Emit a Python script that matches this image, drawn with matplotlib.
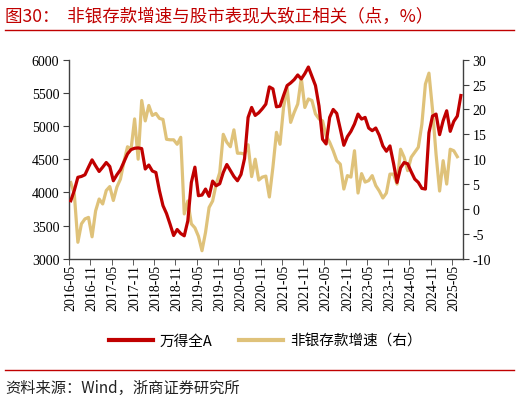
"""Non-bank deposit growth vs. Wind All A index, dual-axis line chart."""
import numpy as np
import matplotlib
matplotlib.use('Agg')
import matplotlib.pyplot as plt
from matplotlib.lines import Line2D

plt.rcParams['font.family'] = ['Noto Sans CJK SC', 'DejaVu Sans']

# monthly data, 2016-05 .. 2025-07
months = [f'{2016 + (4 + k) // 12}-{(4 + k) % 12 + 1:02d}' for k in range(111)]

wind_all_a = [
    3874, 4030, 4227, 4240, 4265, 4380, 4490, 4400, 4315, 4380,
    4450, 4390, 4175, 4265, 4340, 4460, 4580, 4645, 4665, 4670,
    4660, 4352, 4412, 4322, 4300, 4025, 3800, 3680, 3520, 3350,
    3440, 3380, 3345, 3570, 4150, 4380, 3950, 3960, 4050, 3940,
    4170, 4100, 4130, 4300, 4420, 4330, 4240, 4175, 4270, 4510,
    5130, 5280, 5160, 5200, 5260, 5330, 5590, 5560, 5290, 5300,
    5460, 5610, 5650, 5700, 5770, 5710, 5790, 5890, 5750, 5610,
    5300, 4800, 4730, 5130, 5250, 5190, 4955, 4710, 4840, 4920,
    5030, 5180, 5105, 5130, 4970, 4930, 4970, 4860, 4700, 4620,
    4700, 4440, 4150, 4370, 4450, 4430, 4310, 4200, 4150, 4060,
    4050, 4900, 5150, 5180, 4870, 5080, 5230, 4920, 5070, 5150,
    5460,
]

nonbank_dep = [
    5.3, 3.0, -6.7, -3.0, -2.0, -1.7, -5.6, -0.4, 2.0, 1.0,
    3.7, 4.5, 1.7, 4.4, 6.0, 9.5, 12.5, 12.0, 18.1, 10.0,
    21.8, 17.7, 20.8, 18.8, 19.2, 18.2, 18.0, 14.0, 13.9, 13.9,
    13.0, 14.4, -1.0, 1.6, -3.0, -3.8, -5.5, -8.4, -4.7, 0.3,
    1.6, 5.0, 7.3, 15.0, 13.4, 12.5, 15.9, 11.2, 11.2, 11.0,
    12.9, 6.5, 10.0, 5.8, 6.4, 6.6, 2.4, 8.4, 15.4, 13.0,
    20.4, 24.4, 17.4, 19.4, 21.1, 26.3, 20.4, 22.1, 21.8, 19.1,
    18.1, 17.7, 14.7, 13.4, 11.7, 9.7, 9.0, 4.0, 6.7, 6.4,
    11.7, 3.2, 7.1, 5.4, 5.7, 6.7, 4.7, 3.6, 2.2, 3.2,
    7.0, 7.0, 5.0, 12.0, 10.4, 7.7, 10.4, 11.4, 12.4, 17.0,
    25.1, 27.3, 20.0, 11.0, 3.6, 9.7, 5.0, 12.0, 11.7, 10.5,
    np.nan,
]

left_ticks = [3000, 3500, 4000, 4500, 5000, 5500, 6000]
right_ticks = [-10, -5, 0, 5, 10, 15, 20, 25, 30]

RED = '#C00000'
GOLD = '#DFC27A'
AXIS = '#404040'
serif = 'Liberation Serif'

fig = plt.figure(figsize=(5.2, 4.02), dpi=100)
ax = fig.add_axes([0.1327, 0.354, 0.757, 0.495])
ax2 = ax.twinx()

x = np.arange(len(months))
ax.plot(x, wind_all_a, color=RED, lw=2.3, zorder=3)
ax2.plot(x, nonbank_dep, color=GOLD, lw=2.3, zorder=2)
ax.set_zorder(ax2.get_zorder() + 1)
ax.patch.set_visible(False)

ax.set_xlim(-0.5, len(months) - 0.5)
ax.set_ylim(3000, 6000)
ax2.set_ylim(-10, 30)

# x labels every 6 months, tick marks on category boundaries
lab_pos = x[::6]
ax.set_xticks(lab_pos)
ax.set_xticklabels([months[i] for i in lab_pos], rotation=90,
                   fontfamily=serif, fontsize=10)
ax.tick_params(axis='x', which='major', length=0, pad=4)
ax.set_xticks(np.arange(-0.5, len(months), 6), minor=True)
ax.tick_params(axis='x', which='minor', length=4, direction='out', color=AXIS)

ax.set_yticks(left_ticks)
ax.set_yticklabels([str(v) for v in left_ticks], fontfamily=serif, fontsize=10)
ax2.set_yticks(right_ticks)
ax2.set_yticklabels([str(v) for v in right_ticks], fontfamily=serif, fontsize=10)
ax.tick_params(axis='y', length=4, color=AXIS, pad=3)
ax2.tick_params(axis='y', length=4, color=AXIS, pad=3)

for a in (ax, ax2):
    a.spines['top'].set_visible(False)
    for s in ('left', 'right', 'bottom'):
        a.spines[s].set_color(AXIS)
        a.spines[s].set_linewidth(1.0)
ax.spines['right'].set_visible(False)
ax2.spines['left'].set_visible(False)
ax2.spines['bottom'].set_visible(False)

handles = [Line2D([], [], color=RED, lw=3), Line2D([], [], color=GOLD, lw=3)]
fig.legend(handles, ['万得全A', '非银存款增速（右）'], loc='center',
           bbox_to_anchor=(0.51, 1 - 342 / 402), ncol=2, frameon=False,
           fontsize=10.5, handlelength=3.0, columnspacing=1.8, handletextpad=0.5)

# title and source
fig.text(5 / 520, 1 - 17 / 402, '图30：  非银存款增速与股市表现大致正相关（点，%）',
         color=RED, fontsize=12.6, va='center', ha='left')
fig.add_artist(Line2D([5 / 520, 514 / 520], [1 - 31 / 402, 1 - 31 / 402],
                      color=RED, lw=1.0))
fig.add_artist(Line2D([5 / 520, 514 / 520], [1 - 371 / 402, 1 - 371 / 402],
                      color=RED, lw=1.0))
fig.text(5 / 520, 1 - 388 / 402, '资料来源：Wind，浙商证券研究所',
         color='#222222', fontsize=11, va='center', ha='left')

fig.savefig('out.png', dpi=100, facecolor='white')
